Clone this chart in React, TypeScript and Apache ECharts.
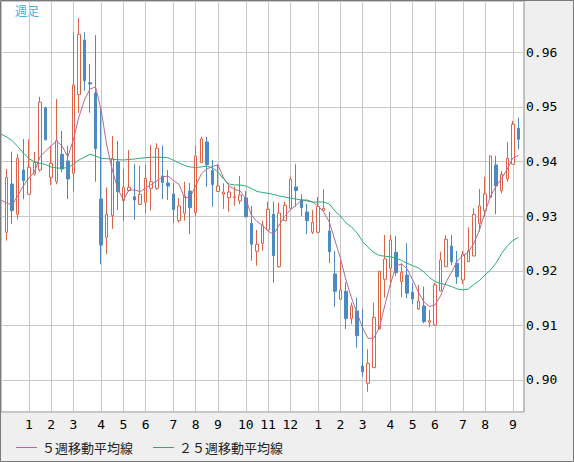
import React, { useEffect, useRef } from "react";
import * as echarts from "echarts";

// Weekly candles (index 0 is only partly in view; no candle drawn there)
const opens = [null, 0.92705, 0.93589, 0.93034, 0.93845, 0.934, 0.93772, 0.93845, 0.9498, 0.93712, 0.93631, 0.94133, 0.9401, 0.93785, 0.95224, 0.96225, 0.95442, 0.95255, 0.93314, 0.92613, 0.93009, 0.93997, 0.93283, 0.9347, 0.93356, 0.93217, 0.93254, 0.9351, 0.9351, 0.93735, 0.93607, 0.93406, 0.92917, 0.93052, 0.93461, 0.93067, 0.93979, 0.94358, 0.93836, 0.93452, 0.934, 0.93338, 0.93338, 0.93278, 0.93332, 0.92869, 0.92357, 0.92503, 0.92747, 0.93034, 0.92075, 0.92917, 0.93144, 0.93534, 0.93296, 0.93076, 0.92705, 0.92705, 0.93104, 0.92728, 0.91941, 0.91478, 0.91624, 0.91123, 0.91264, 0.90257, 0.8994, 0.90226, 0.90934, 0.91844, 0.92046, 0.92338, 0.918, 0.91923, 0.91606, 0.913, 0.91355, 0.91057, 0.91007, 0.9163, 0.92075, 0.92454, 0.92137, 0.91831, 0.92166, 0.92271, 0.92869, 0.93103, 0.93345, 0.93937, 0.93466, 0.9368, 0.9395, 0.94609];
const closes = [null, 0.93712, 0.931, 0.94059, 0.93649, 0.93895, 0.93986, 0.95085, 0.944, 0.93968, 0.94382, 0.93863, 0.9368, 0.95401, 0.9633, 0.9548, 0.9542, 0.94235, 0.92472, 0.93034, 0.94059, 0.93448, 0.93528, 0.93528, 0.93296, 0.934, 0.93693, 0.93631, 0.94242, 0.93616, 0.93552, 0.93122, 0.93186, 0.93369, 0.93155, 0.94102, 0.94413, 0.93946, 0.9358, 0.93552, 0.93437, 0.93442, 0.93356, 0.93387, 0.9299, 0.92485, 0.92485, 0.92825, 0.93126, 0.92276, 0.93058, 0.93199, 0.93675, 0.9347, 0.93155, 0.92917, 0.92888, 0.93177, 0.93144, 0.92349, 0.91624, 0.91648, 0.91123, 0.91355, 0.90812, 0.90152, 0.90306, 0.91148, 0.91991, 0.92216, 0.92564, 0.91965, 0.91972, 0.91588, 0.91483, 0.91447, 0.91068, 0.91086, 0.9174, 0.92197, 0.92576, 0.92166, 0.91892, 0.92302, 0.92362, 0.93034, 0.93186, 0.93406, 0.94102, 0.93552, 0.93766, 0.94059, 0.94682, 0.94407];
const lows = [null, 0.92551, 0.92857, 0.92943, 0.93309, 0.93387, 0.93744, 0.93814, 0.94385, 0.93571, 0.93583, 0.93803, 0.93314, 0.93448, 0.94889, 0.95297, 0.94894, 0.93631, 0.92119, 0.92302, 0.92765, 0.93113, 0.92917, 0.93452, 0.9293, 0.93204, 0.93058, 0.93103, 0.93479, 0.93314, 0.93296, 0.92869, 0.9288, 0.92917, 0.92668, 0.93003, 0.93973, 0.93539, 0.93173, 0.93448, 0.93131, 0.93082, 0.93192, 0.93217, 0.92972, 0.92185, 0.92093, 0.92368, 0.92728, 0.91782, 0.92057, 0.92911, 0.9314, 0.93173, 0.93003, 0.92668, 0.92673, 0.92686, 0.931, 0.92143, 0.91342, 0.91474, 0.90934, 0.9102, 0.90592, 0.90061, 0.89786, 0.9022, 0.90925, 0.91507, 0.91709, 0.9191, 0.91515, 0.91496, 0.91386, 0.91282, 0.91039, 0.90965, 0.90989, 0.91621, 0.92069, 0.92106, 0.91758, 0.91758, 0.92161, 0.92262, 0.92716, 0.9299, 0.93342, 0.93034, 0.93419, 0.93631, 0.93946, 0.94224];
const highs = [null, 0.93863, 0.9418, 0.94138, 0.94413, 0.94407, 0.94175, 0.95187, 0.95004, 0.9429, 0.95145, 0.94559, 0.9429, 0.96366, 0.96628, 0.96366, 0.95786, 0.96317, 0.94975, 0.93528, 0.94468, 0.94376, 0.93863, 0.94211, 0.93955, 0.93924, 0.93937, 0.94303, 0.94334, 0.9429, 0.93845, 0.93602, 0.93332, 0.93631, 0.93607, 0.9429, 0.94455, 0.94455, 0.94028, 0.9395, 0.93602, 0.93558, 0.93539, 0.93735, 0.93461, 0.93186, 0.92747, 0.92917, 0.93265, 0.93265, 0.93246, 0.93265, 0.93722, 0.93951, 0.934, 0.93223, 0.93113, 0.93351, 0.93492, 0.93082, 0.92362, 0.92179, 0.91789, 0.91416, 0.91507, 0.913, 0.90563, 0.91416, 0.91996, 0.92655, 0.92655, 0.92637, 0.92137, 0.92503, 0.91771, 0.9174, 0.91709, 0.91282, 0.91776, 0.92349, 0.92655, 0.92655, 0.92362, 0.92362, 0.92796, 0.93144, 0.93497, 0.93722, 0.94111, 0.94102, 0.93827, 0.94352, 0.94742, 0.94803];

// Moving averages
const ma5 = [0.93296, 0.93241, 0.93204, 0.93369, 0.93552, 0.93699, 0.93809, 0.94083, 0.94193, 0.94285, 0.94376, 0.94285, 0.94083, 0.94394, 0.94816, 0.95127, 0.95328, 0.95365, 0.94944, 0.94303, 0.93845, 0.93497, 0.93296, 0.93479, 0.93479, 0.93448, 0.93516, 0.9358, 0.93644, 0.93717, 0.93735, 0.93653, 0.9358, 0.93332, 0.93351, 0.93552, 0.93772, 0.93863, 0.93909, 0.93937, 0.93699, 0.93552, 0.93488, 0.93461, 0.93314, 0.93021, 0.92902, 0.92829, 0.92728, 0.92664, 0.92838, 0.92994, 0.93113, 0.93195, 0.93296, 0.93296, 0.93259, 0.93186, 0.93076, 0.92893, 0.92564, 0.92234, 0.91831, 0.91502, 0.91227, 0.90953, 0.9076, 0.90769, 0.90953, 0.91374, 0.91758, 0.92088, 0.92124, 0.92033, 0.91831, 0.91612, 0.91429, 0.91346, 0.91374, 0.91538, 0.91795, 0.91978, 0.92179, 0.92271, 0.92344, 0.92509, 0.92747, 0.93076, 0.93369, 0.93552, 0.93693, 0.93863, 0.94065, 0.94111];
const ma25 = [0.94504, 0.94449, 0.94385, 0.94275, 0.94156, 0.94056, 0.93992, 0.93968, 0.93946, 0.939, 0.93882, 0.93876, 0.93891, 0.93946, 0.94028, 0.94083, 0.94133, 0.94102, 0.94059, 0.94052, 0.94041, 0.94034, 0.94028, 0.94037, 0.94047, 0.94059, 0.9407, 0.94078, 0.94078, 0.94078, 0.9407, 0.94023, 0.93973, 0.93928, 0.939, 0.93891, 0.939, 0.93918, 0.93882, 0.93809, 0.9368, 0.93589, 0.93571, 0.93571, 0.93552, 0.93506, 0.93452, 0.93433, 0.93419, 0.93397, 0.93369, 0.93351, 0.93327, 0.93314, 0.93296, 0.93278, 0.93259, 0.93259, 0.93259, 0.93223, 0.93095, 0.93003, 0.92875, 0.92802, 0.92692, 0.92536, 0.92426, 0.92335, 0.9228, 0.92265, 0.92258, 0.92234, 0.92188, 0.92137, 0.92093, 0.92051, 0.91978, 0.91877, 0.91804, 0.91767, 0.91745, 0.91712, 0.91667, 0.91648, 0.91666, 0.91749, 0.91822, 0.91923, 0.92014, 0.92143, 0.9232, 0.92454, 0.92554, 0.92609];

// Category positions of the first week of each month and their labels
const monthTickIndex = [5, 9, 13, 18, 22, 26, 31, 35, 39, 44, 48, 52, 57, 61, 65, 70, 74, 78, 83, 87, 92];
const monthLabels = ["1", "2", "3", "4", "5", "6", "7", "8", "9", "10", "11", "12", "1", "2", "3", "4", "5", "6", "7", "8", "9"];
const weekCount = 95;
const weeks = Array.from({ length: weekCount }, (_, i) => "W" + i);

const seriesNames = ["５週移動平均線", "２５週移動平均線"];
const titleText = "週足";

export default function App() {
  const ref = useRef<HTMLDivElement>(null);
  useEffect(() => {
    if (!ref.current) return;
    const chart = echarts.init(ref.current, undefined, { renderer: "svg" });
    const labelAt: Record<number, string> = {};
    monthTickIndex.forEach((idx, k) => (labelAt[idx] = monthLabels[k]));
    const isTick = (idx: number) => labelAt[idx] !== undefined;
    const candles = opens.map((o, i) =>
      o === null ? ["-", "-", "-", "-"] : [o, closes[i], lows[i], highs[i]]
    );
    const mono = "DejaVu Sans Mono";
    const cjk = "Noto Sans CJK JP";
    chart.setOption({
      animation: false,
      backgroundColor: "#efefef",
      grid: {
        left: 1,
        top: 1,
        width: 523,
        height: 411,
        show: true,
        backgroundColor: "#ffffff",
        borderColor: "#8a8a8a",
        borderWidth: 1,
      },
      xAxis: {
        type: "category",
        data: weeks,
        boundaryGap: false,
        axisLine: { show: false },
        axisTick: { show: false },
        axisLabel: {
          interval: (idx: number) => isTick(idx),
          formatter: (_v: string, idx: number) => labelAt[idx] ?? "",
          color: "#000",
          fontFamily: mono,
          fontSize: 13,
          margin: 6,
        },
        splitLine: {
          show: true,
          interval: (idx: number) => isTick(idx),
          lineStyle: { color: "#c8c8c8", width: 1 },
        },
      },
      yAxis: {
        type: "value",
        position: "right",
        min: 0.89414,
        max: 0.96939,
        splitNumber: 7,
        minInterval: 0.01,
        maxInterval: 0.01,
        axisLine: { show: false },
        axisTick: { show: false },
        axisLabel: {
          showMinLabel: false,
          showMaxLabel: false,
          formatter: (v: number) => v.toFixed(2),
          color: "#000",
          fontFamily: mono,
          fontSize: 13,
          margin: 2,
        },
        splitLine: { show: true, lineStyle: { color: "#c8c8c8", width: 1 } },
      },
      legend: {
        left: 16,
        top: 441,
        padding: 0,
        icon: "rect",
        itemWidth: 21,
        itemHeight: 1,
        itemGap: 20,
        data: seriesNames,
        textStyle: { fontFamily: cjk, fontSize: 13, color: "#222" },
      },
      graphic: [
        {
          type: "text",
          left: 15,
          top: 4,
          style: { text: titleText, fill: "#3aaee6", font: `12px "${cjk}"` },
        },
        {
          type: "rect",
          shape: { x: 0.5, y: 0.5, width: 573, height: 461 },
          style: { fill: "none", stroke: "#7a7a78", lineWidth: 1 },
          silent: true,
        },
      ],
      series: [
        {
          type: "candlestick",
          data: candles,
          barWidth: 3,
          itemStyle: {
            color: "#ffffff",
            color0: "#4b8ac2",
            borderColor: "#dc6446",
            borderColor0: "#4b8ac2",
            borderWidth: 1,
          },
        },
        {
          name: seriesNames[0],
          type: "line",
          data: ma5,
          symbol: "none",
          lineStyle: { color: "#b46a94", width: 1 },
          itemStyle: { color: "#b46a94" },
        },
        {
          name: seriesNames[1],
          type: "line",
          data: ma25,
          symbol: "none",
          lineStyle: { color: "#2aad73", width: 1 },
          itemStyle: { color: "#2aad73" },
        },
      ],
    });
    return () => chart.dispose();
  }, []);
  return (
    <div
      ref={ref}
      style={{ position: "fixed", left: 0, top: 0, width: 574, height: 462 }}
    />
  );
}
